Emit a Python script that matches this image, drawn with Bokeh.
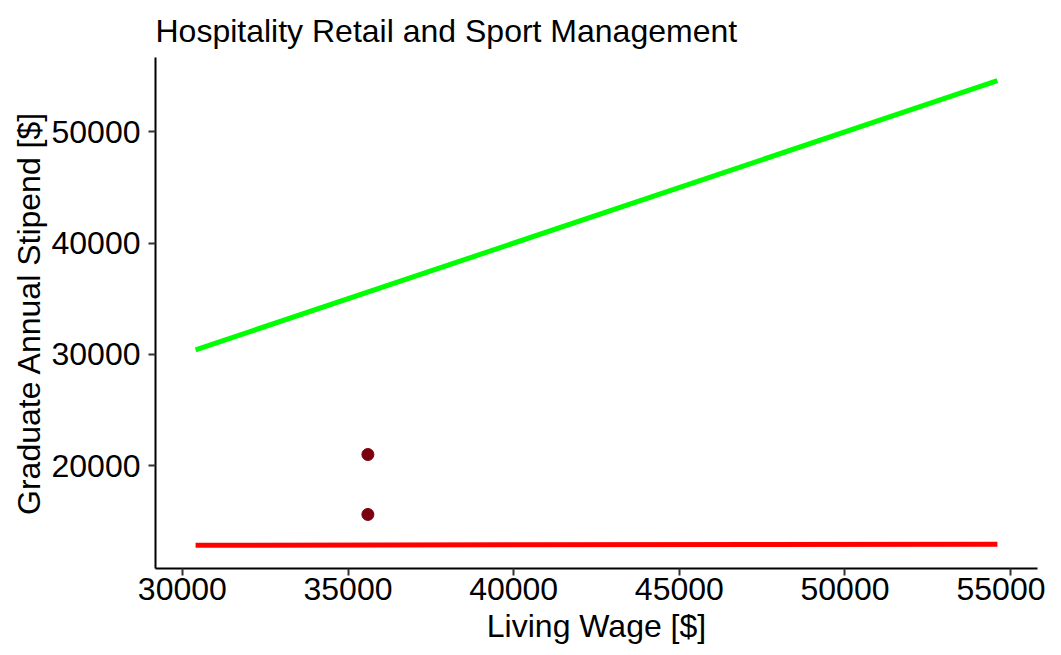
from bokeh.plotting import figure
from bokeh.models import Range1d
from bokeh.embed import file_html
from bokeh.resources import INLINE

# data
wage_line_x = [30400, 54600]
wage_line_y = [30400, 54600]
fit_line_x = [30400, 54600]
fit_line_y = [12830, 12930]
point_x = [35600, 35600]
point_y = [20990, 15600]
x_ticks = [30000, 35000, 40000, 45000, 50000, 55000]
y_ticks = [20000, 30000, 40000, 50000]

xs = wage_line_x + fit_line_x + point_x
ys = wage_line_y + fit_line_y + point_y
xpad = (max(xs) - min(xs)) * 0.05
ypad = (max(ys) - min(ys)) * 0.05

FONT = "Liberation Sans"
FS = "32px"

p = figure(width=1045, height=647, output_backend="svg", toolbar_location=None,
           x_range=Range1d(min(xs) - xpad, max(xs) + xpad),
           y_range=Range1d(min(ys) - ypad, max(ys) + ypad),
           min_border_left=155, min_border_right=8, min_border_top=57, min_border_bottom=79,
           title="Hospitality Retail and Sport Management")

p.title.text_font = FONT
p.title.text_font_size = FS
p.title.text_font_style = "normal"
p.title.text_color = "#000000"
p.title.align = "left"
p.title.offset = 0
p.title.standoff = 17

p.line(wage_line_x, wage_line_y, line_color="#00FF00", line_width=5)
p.line(fit_line_x, fit_line_y, line_color="#FF0000", line_width=5)
p.scatter(point_x, point_y, size=12, fill_color="#7A0010", line_color="#7A0010")

p.xgrid.visible = False
p.ygrid.visible = False
p.outline_line_color = None
p.background_fill_color = "white"
p.border_fill_color = "white"

p.xaxis.ticker = x_ticks
p.yaxis.ticker = y_ticks
p.xaxis.axis_label = "Living Wage [$]"
p.yaxis.axis_label = "Graduate Annual Stipend [$]"

for ax in (p.xaxis, p.yaxis):
    ax.axis_line_color = "#000000"
    ax.axis_line_width = 2
    ax.major_tick_line_color = "#333333"
    ax.major_tick_line_width = 2
    ax.major_tick_out = 7
    ax.major_tick_in = 0
    ax.minor_tick_line_color = None
    ax.major_label_text_font = FONT
    ax.major_label_text_font_size = FS
    ax.major_label_text_color = "#000000"
    ax.axis_label_text_font = FONT
    ax.axis_label_text_font_size = FS
    ax.axis_label_text_font_style = "normal"
    ax.axis_label_text_color = "#000000"

p.xaxis.major_label_standoff = 2
p.yaxis.major_label_standoff = 8
p.xaxis.axis_label_standoff = 5
p.yaxis.axis_label_standoff = 2

open("out.html", "w").write(file_html(p, INLINE))
